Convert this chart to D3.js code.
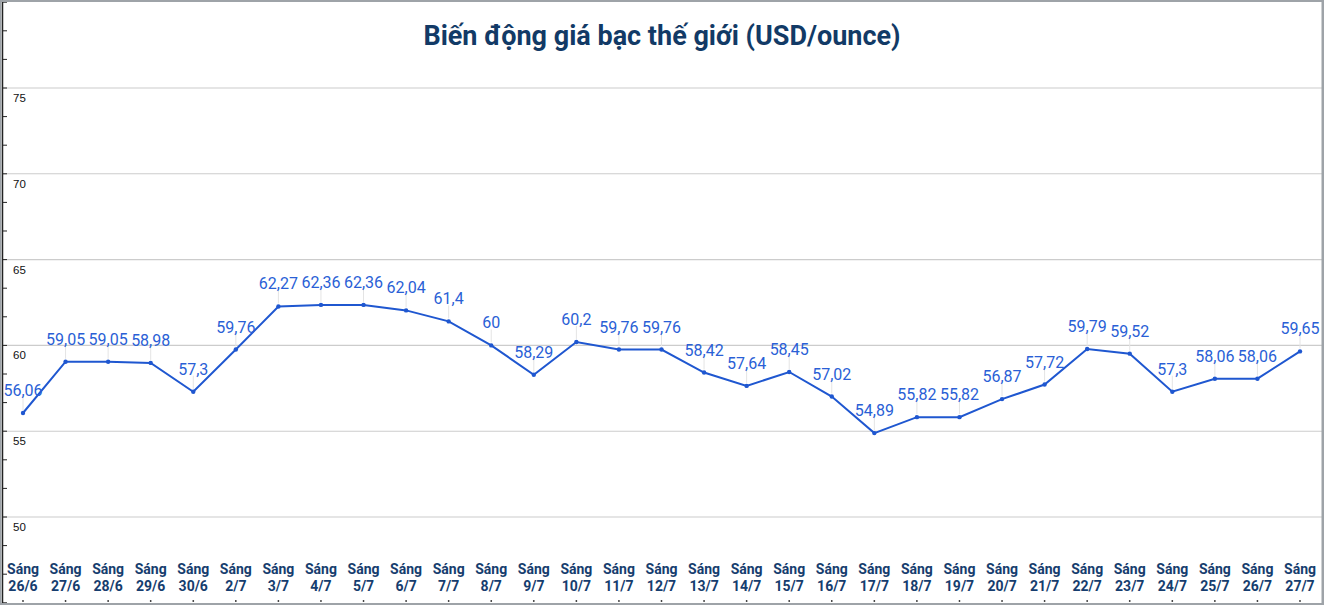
<!DOCTYPE html>
<html><head><meta charset="utf-8">
<script src="https://cdn.jsdelivr.net/npm/d3@7"></script>
<style>
html,body{margin:0;padding:0;background:#fff;}
svg{display:block;}
</style></head>
<body>
<svg id="chart" width="1324" height="605"></svg>
<script>
const categories = ["26/6","27/6","28/6","29/6","30/6","2/7","3/7","4/7","5/7","6/7","7/7","8/7","9/7","10/7","11/7","12/7","13/7","14/7","15/7","16/7","17/7","18/7","19/7","20/7","21/7","22/7","23/7","24/7","25/7","26/7","27/7"];
const values = [56.06,59.05,59.05,58.98,57.3,59.76,62.27,62.36,62.36,62.04,61.4,60,58.29,60.2,59.76,59.76,58.42,57.64,58.45,57.02,54.89,55.82,55.82,56.87,57.72,59.79,59.52,57.3,58.06,58.06,59.65];
const yTicks = [50,55,60,65,70,75];
const minorTicks = [45,46.6667,48.3333,50,51.6667,53.3333,55,56.6667,58.3333,60,61.6667,63.3333,65,66.6667,68.3333,70,71.6667,73.3333,75,76.6667,78.3333,80];
const title = "Biến động giá bạc thế giới (USD/ounce)";
const prefix = "Sáng";

const svg = d3.select("#chart");
const W = 1324, H = 605;

const y = d3.scaleLinear().domain([50,75]).range([517,88]);
const x = d3.scalePoint().domain(categories).range([23,1300]);

// grid lines
svg.append("g").selectAll("line").data(yTicks).join("line")
  .attr("x1",3).attr("x2",1322).attr("y1",d=>y(d)).attr("y2",d=>y(d))
  .attr("stroke","#cccccc").attr("stroke-width",1.1);

// y tick labels
svg.append("g").selectAll("text").data(yTicks).join("text")
  .attr("x",13).attr("y",d=>y(d)+14)
  .attr("font-family","Liberation Sans, Arial, sans-serif").attr("font-size",11.5).attr("fill","#111")
  .text(d=>d);

// left axis line + minor ticks
svg.append("line").attr("x1",2.5).attr("x2",2.5).attr("y1",1).attr("y2",604).attr("stroke","#222").attr("stroke-width",1.5);
svg.append("g").selectAll("line").data(minorTicks.filter(d=>y(d)>2 && y(d)<603)).join("line")
  .attr("x1",2).attr("x2",7).attr("y1",d=>y(d)).attr("y2",d=>y(d))
  .attr("stroke","#222").attr("stroke-width",1);

// borders
svg.append("rect").attr("x",0).attr("y",0).attr("width",W).attr("height",2).attr("fill","#9ea3a8");
svg.append("rect").attr("x",1321.5).attr("y",0).attr("width",2.5).attr("height",H).attr("fill","#9ea3a8");
svg.append("rect").attr("x",0).attr("y",603).attr("width",W).attr("height",2).attr("fill","#9ea3a8");
svg.append("rect").attr("x",0).attr("y",0).attr("width",1.5).attr("height",H).attr("fill","#9ea3a8");

// title
svg.append("text").attr("x",662).attr("y",44.5).attr("text-anchor","middle")
  .attr("font-family","Roboto, sans-serif").attr("font-weight","bold").attr("font-size",27)
  .attr("fill","#123a66").text(title);

// leader lines
svg.append("g").selectAll("line").data(values).join("line")
  .attr("x1",(d,i)=>x(categories[i])).attr("x2",(d,i)=>x(categories[i]))
  .attr("y1",d=>y(d)-3).attr("y2",d=>y(d)-16)
  .attr("stroke","#e4e4e4").attr("stroke-width",1);

// line
const line = d3.line().x((d,i)=>x(categories[i])).y(d=>y(d));
svg.append("path").datum(values).attr("d",line).attr("fill","none")
  .attr("stroke","#1f57d0").attr("stroke-width",2);

// points
svg.append("g").selectAll("circle").data(values).join("circle")
  .attr("cx",(d,i)=>x(categories[i])).attr("cy",d=>y(d)).attr("r",2.2).attr("fill","#1f57d0");

// data labels
const fmt = v => String(v).replace(".",",");
svg.append("g").selectAll("text").data(values).join("text")
  .attr("x",(d,i)=>x(categories[i])).attr("y",d=>y(d)-17)
  .attr("text-anchor","middle")
  .attr("font-family","Roboto, sans-serif").attr("font-size",16).attr("fill","#2a5fd6")
  .text(fmt);

// x labels
const xl = svg.append("g");
categories.forEach(c=>{
  const t = xl.append("text").attr("x",x(c)).attr("y",574).attr("text-anchor","middle")
    .attr("font-family","Roboto, sans-serif").attr("font-weight","bold").attr("font-size",14).attr("fill","#163d6e");
  t.append("tspan").attr("x",x(c)).attr("dy",0).text(prefix);
  t.append("tspan").attr("x",x(c)).attr("dy",17).text(c);
  xl.append("circle").attr("cx",x(c)).attr("cy",601).attr("r",0.9).attr("fill","#333");
});
</script>
</body></html>
